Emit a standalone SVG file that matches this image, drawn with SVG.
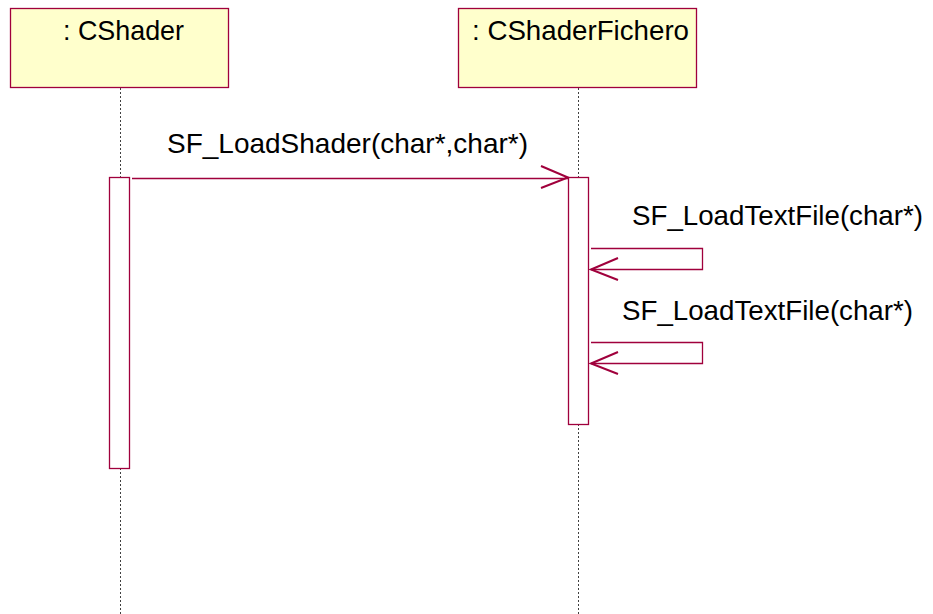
<svg xmlns="http://www.w3.org/2000/svg" width="933" height="614" viewBox="0 0 933 614">
  <style>
    .obj { fill: #FFFFCC; stroke: #A0003C; stroke-width: 1.3; }
    .act { fill: #FFFFFF; stroke: #A0003C; stroke-width: 1.3; }
    .life { stroke: #404040; stroke-width: 1; stroke-dasharray: 2 2; fill: none; }
    .msg { stroke: #A0003C; stroke-width: 1.3; fill: none; }
    .head { stroke: #A0003C; stroke-width: 2; fill: none; }
    .lbl { font-family: "Liberation Sans", Arial, sans-serif; font-size: 27.5px; fill: #000000; }
  </style>
  <rect width="933" height="614" fill="#FFFFFF"/>

  <!-- lifelines -->
  <g id="lifelines">
    <line class="life" x1="120.5" y1="88" x2="120.5" y2="614"/>
    <line class="life" x1="578.5" y1="88" x2="578.5" y2="614"/>
  </g>

  <!-- object: CShader -->
  <g id="cshader">
    <rect class="obj" x="10.5" y="8.5" width="218" height="79"/>
    <text class="lbl" x="63" y="40" textLength="121" lengthAdjust="spacingAndGlyphs">: CShader</text>
    <rect class="act" x="109.5" y="177.5" width="20" height="291"/>
  </g>

  <!-- object: CShaderFichero -->
  <g id="cshaderfichero">
    <rect class="obj" x="458.5" y="8.5" width="238" height="79"/>
    <text class="lbl" x="472" y="40" textLength="217" lengthAdjust="spacingAndGlyphs">: CShaderFichero</text>
    <rect class="act" x="568.5" y="177.5" width="20" height="247"/>
  </g>

  <!-- messages -->
  <g id="connectors">
    <line class="msg" x1="132" y1="178.5" x2="568" y2="178.5"/>
    <polyline class="head" points="541,166 568,177.5 541,188"/>
    <text class="lbl" x="167" y="153" textLength="361" lengthAdjust="spacingAndGlyphs">SF_LoadShader(char*,char*)</text>

    <polyline class="msg" points="591,248.5 702.5,248.5 702.5,269.5 591,269.5"/>
    <polyline class="head" points="618,258 591,269.5 618,280"/>
    <text class="lbl" x="632" y="225" textLength="291" lengthAdjust="spacingAndGlyphs">SF_LoadTextFile(char*)</text>

    <polyline class="msg" points="591,342.5 702.5,342.5 702.5,363.5 591,363.5"/>
    <polyline class="head" points="618,352 591,363.5 618,374"/>
    <text class="lbl" x="622" y="320" textLength="291" lengthAdjust="spacingAndGlyphs">SF_LoadTextFile(char*)</text>
  </g>
</svg>
